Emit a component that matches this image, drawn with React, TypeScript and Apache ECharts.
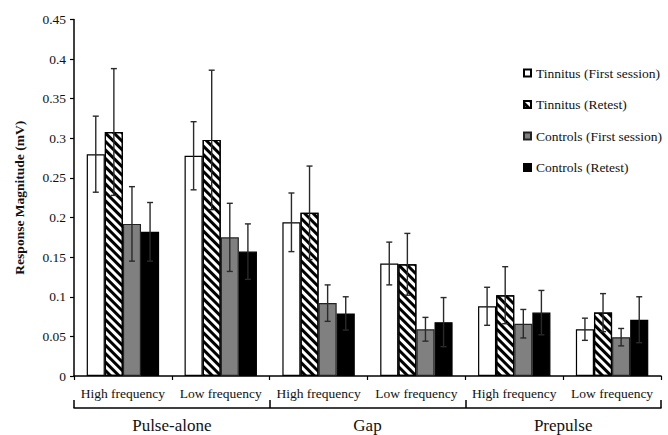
import React, { useEffect, useRef } from "react";
import * as echarts from "echarts";

const categories = [
  "High frequency",
  "Low frequency",
  "High frequency",
  "Low frequency",
  "High frequency",
  "Low frequency",
];
const groups = ["Pulse-alone", "Gap", "Prepulse"];
const seriesNames = [
  "Tinnitus (First session)",
  "Tinnitus (Retest)",
  "Controls (First session)",
  "Controls (Retest)",
];
const tinnitusFirst = [0.28, 0.278, 0.194, 0.142, 0.088, 0.059];
const tinnitusFirstErr = [0.048, 0.043, 0.037, 0.027, 0.024, 0.014];
const tinnitusRetest = [0.308, 0.298, 0.206, 0.141, 0.102, 0.08];
const tinnitusRetestErr = [0.08, 0.088, 0.059, 0.039, 0.036, 0.024];
const controlsFirst = [0.192, 0.175, 0.092, 0.059, 0.066, 0.049];
const controlsFirstErr = [0.047, 0.043, 0.023, 0.015, 0.018, 0.011];
const controlsRetest = [0.182, 0.157, 0.079, 0.068, 0.08, 0.071];
const controlsRetestErr = [0.037, 0.035, 0.021, 0.031, 0.028, 0.029];

const FONT = "Liberation Serif";
const CAT_GAP = 0.26;

export default function App() {
  const ref = useRef<HTMLDivElement>(null);
  useEffect(() => {
    if (!ref.current) return;
    const chart = echarts.init(ref.current, undefined, { renderer: "svg" });
    const values = [tinnitusFirst, tinnitusRetest, controlsFirst, controlsRetest];
    const errs = [tinnitusFirstErr, tinnitusRetestErr, controlsFirstErr, controlsRetestErr];
    const styles: any[] = [
      { color: "#ffffff", borderColor: "#000", borderWidth: 1.2 },
      {
        color: "#ffffff",
        borderColor: "#000",
        borderWidth: 1.2,
        decal: {
          symbol: "rect",
          symbolSize: 1,
          color: "#000",
          dashArrayX: [1, 0],
          dashArrayY: [2.4, 2.6],
          rotation: Math.PI / 4,
        },
      },
      { color: "#808080", borderColor: "#222", borderWidth: 1.2 },
      { color: "#000000", borderColor: "#000", borderWidth: 1.2 },
    ];
    const barSeries = values.map((v, i) => ({
      name: seriesNames[i],
      type: "bar",
      data: v,
      barGap: "0%",
      barCategoryGap: CAT_GAP * 100 + "%",
      itemStyle: styles[i],
      z: 2,
    }));
    const errSeries = values.map((v, si) => ({
      name: "err" + si,
      type: "custom",
      z: 10,
      silent: true,
      encode: { x: 0, y: 1 },
      data: v.map((m, ci) => [ci, m, errs[si][ci]]),
      renderItem: (params: any, api: any) => {
        const ci = api.value(0);
        const m = api.value(1);
        const e = api.value(2);
        const center = api.coord([ci, 0])[0];
        const band = api.size([1, 0])[0];
        const bw = (band * (1 - CAT_GAP)) / 4;
        const x = center + (si - 1.5) * bw;
        const yTop = api.coord([ci, m + e])[1];
        const yBot = api.coord([ci, m - e])[1];
        const cap = 3;
        const st = { stroke: "#2a2a2a", lineWidth: 1.4 };
        return {
          type: "group",
          children: [
            { type: "line", shape: { x1: x, y1: yTop, x2: x, y2: yBot }, style: st },
            { type: "line", shape: { x1: x - cap, y1: yTop, x2: x + cap, y2: yTop }, style: st },
            { type: "line", shape: { x1: x - cap, y1: yBot, x2: x + cap, y2: yBot }, style: st },
          ],
        };
      },
    }));

    chart.setOption({
      animation: false,
      grid: { left: 74, right: 7, top: 19.5, bottom: 59, containLabel: false },
      legend: {
        orient: "vertical",
        left: 523,
        top: 66,
        padding: 0,
        icon: "rect",
        itemWidth: 7,
        itemHeight: 7,
        itemGap: 17.5,
        data: seriesNames,
        textStyle: { fontFamily: FONT, fontSize: 13.5, color: "#111" },
      },
      xAxis: [
        {
          type: "category",
          data: categories,
          axisLine: { lineStyle: { color: "#000", width: 1.5 } },
          axisTick: { show: true, length: 4, interval: 0, lineStyle: { color: "#000", width: 1.2 } },
          axisLabel: { interval: 0, margin: 10, fontFamily: FONT, fontSize: 13.5, color: "#111" },
        },
        {
          type: "category",
          data: groups,
          position: "bottom",
          offset: 32,
          axisLine: { lineStyle: { color: "#000", width: 1.5 } },
          axisTick: { show: true, inside: true, length: 8, interval: 0, lineStyle: { color: "#000", width: 1.5 } },
          axisLabel: { interval: 0, margin: 9, fontFamily: FONT, fontSize: 17, color: "#111" },
        },
      ],
      yAxis: {
        type: "value",
        min: 0,
        max: 0.45,
        interval: 0.05,
        name: "Response Magnitude (mV)",
        nameLocation: "middle",
        nameGap: 48,
        nameTextStyle: { fontFamily: FONT, fontSize: 13.5, fontWeight: "bold", color: "#111" },
        axisLine: { show: true, lineStyle: { color: "#000", width: 1.5 } },
        axisTick: { show: true, length: 4, lineStyle: { color: "#000", width: 1.2 } },
        axisLabel: { margin: 8, fontFamily: FONT, fontSize: 13.5, color: "#111" },
        splitLine: { show: false },
      },
      series: [...barSeries, ...errSeries],
    });
    return () => chart.dispose();
  }, []);
  return <div ref={ref} style={{ width: 668, height: 435, position: "absolute", left: 0, top: 0, background: "#fff" }} />;
}
